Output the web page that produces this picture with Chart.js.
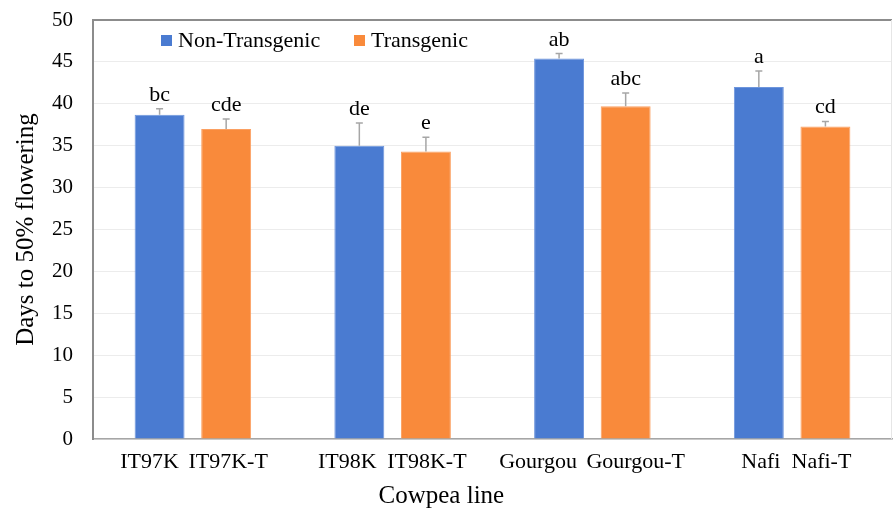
<!DOCTYPE html>
<html>
<head>
<meta charset="utf-8">
<script src="https://cdn.jsdelivr.net/npm/chart.js@4.4.1/dist/chart.umd.min.js"></script>
<style>
html,body{margin:0;padding:0;background:#fff;}
canvas{display:block;}
</style>
</head>
<body>
<canvas id="c" width="893" height="510"></canvas>
<script>
// ---- data ----
const lines = ['IT97K', 'IT98K', 'Gourgou', 'Nafi'];
const nonTransgenic = [38.7, 35.0, 45.4, 42.0];
const nonTransgenicErr = [0.7, 2.7, 0.6, 1.9];
const transgenic = [37.0, 34.3, 39.7, 37.3];
const transgenicErr = [1.2, 1.7, 1.6, 0.6];
const nonTransgenicLetters = ['bc', 'de', 'ab', 'a'];
const transgenicLetters = ['cde', 'e', 'abc', 'cd'];
const yMin = 0, yMax = 50, yStep = 5;
const seriesNames = ['Non-Transgenic', 'Transgenic'];
const xTitle = 'Cowpea line';
const yTitle = 'Days to 50% flowering';

// ---- style: small horizontal nudges of the tick labels (px), as placed in the original figure ----
const labelNudgeNon = [-10, -12, -21, 2];
const labelNudgeTr = [2, 1, 10, -4];

// ---- build slot table (spacer slot before each line, plus one at the end) ----
const labels = [];
const dNon = [], dTr = [], eNon = [], eTr = [], lNon = [], lTr = [], nudge = [];
lines.forEach((name, i) => {
  labels.push('', name, name + '-T');
  dNon.push(null, nonTransgenic[i], null);
  dTr.push(null, null, transgenic[i]);
  eNon.push(null, nonTransgenicErr[i], null);
  eTr.push(null, null, transgenicErr[i]);
  lNon.push(null, nonTransgenicLetters[i], null);
  lTr.push(null, null, transgenicLetters[i]);
  nudge.push(0, labelNudgeNon[i], labelNudgeTr[i]);
});
labels.push(''); dNon.push(null); dTr.push(null); eNon.push(null); eTr.push(null); lNon.push(null); lTr.push(null); nudge.push(0);

const BLUE = '#4a7bd1';
const ORANGE = '#f98a3b';
const FONT = "'Liberation Serif', 'Times New Roman', serif";

const errorPlugin = {
  id: 'errbars',
  beforeDraw(chart) {
    // nudge x tick labels
    const xs = chart.scales.x;
    const items = xs.getLabelItems(chart.chartArea);
    if (!items) return;
    items.forEach((it) => {
      const idx = xs.ticks.findIndex(t => t.label === it.label);
      if (idx >= 0 && it.options && it.options.translation && !it._nudged) {
        it.options.translation[0] += nudge[idx] || 0;
        it._nudged = true;
      }
    });
  },
  afterDatasetsDraw(chart) {
    const ctx = chart.ctx;
    const y = chart.scales.y;
    const errs = [eNon, eTr];
    const lets = [lNon, lTr];
    chart.data.datasets.forEach((ds, di) => {
      const meta = chart.getDatasetMeta(di);
      meta.data.forEach((el, i) => {
        const v = ds.data[i];
        if (v === null || v === undefined) return;
        const top = y.getPixelForValue(v + errs[di][i]);
        ctx.save();
        ctx.strokeStyle = '#a6a6a6';
        ctx.lineWidth = 1.5;
        ctx.beginPath();
        ctx.moveTo(el.x, el.y);
        ctx.lineTo(el.x, top);
        ctx.moveTo(el.x - 3.5, top);
        ctx.lineTo(el.x + 3.5, top);
        ctx.stroke();
        ctx.fillStyle = '#000';
        ctx.font = '22px ' + FONT;
        ctx.textAlign = 'center';
        ctx.textBaseline = 'alphabetic';
        ctx.fillText(lets[di][i], el.x, top - 8);
        ctx.restore();
      });
    });
  },
  afterDraw(chart) {
    const ctx = chart.ctx;
    const a = chart.chartArea;
    ctx.save();
    // faint right border
    ctx.strokeStyle = '#e6e6e6';
    ctx.lineWidth = 1;
    ctx.beginPath();
    ctx.moveTo(a.right - 0.5, a.top);
    ctx.lineTo(a.right - 0.5, a.bottom);
    ctx.stroke();
    // legend
    ctx.font = '22px ' + FONT;
    ctx.textBaseline = 'middle';
    ctx.textAlign = 'left';
    const items = [[seriesNames[0], BLUE, 161], [seriesNames[1], ORANGE, 354]];
    items.forEach(([t, c, x]) => {
      ctx.fillStyle = c;
      ctx.fillRect(x, 35, 11, 11);
      ctx.fillStyle = '#000';
      ctx.fillText(t, x + 17, 41);
    });
    // x axis title
    ctx.font = '25px ' + FONT;
    ctx.textAlign = 'center';
    ctx.textBaseline = 'middle';
    ctx.fillText(xTitle, a.left + (a.right - a.left) * 0.436, 496);
    ctx.restore();
  }
};

new Chart(document.getElementById('c'), {
  type: 'bar',
  data: {
    labels: labels,
    datasets: [
      { label: seriesNames[0], data: dNon, backgroundColor: BLUE, borderColor: '#6d95dc', borderWidth: 1, grouped: false, barPercentage: 0.75, categoryPercentage: 1.0 },
      { label: seriesNames[1], data: dTr, backgroundColor: ORANGE, borderColor: '#fba062', borderWidth: 1, grouped: false, barPercentage: 0.75, categoryPercentage: 1.0 }
    ]
  },
  options: {
    responsive: false,
    animation: false,
    layout: { padding: { top: 20, right: 1, left: 0, bottom: 0 } },
    plugins: { legend: { display: false }, tooltip: { enabled: false } },
    scales: {
      x: {
        offset: false,
        afterFit(s) { s.height = 71; s.paddingLeft = 0; s.paddingRight = 0; },
        grid: { display: false, drawTicks: false, offset: false },
        border: { display: true, color: '#a6a6a6', width: 1.5 },
        ticks: { color: '#000', font: { family: FONT, size: 22 }, padding: 10, autoSkip: false, maxRotation: 0 },
        title: { display: false, text: xTitle }
      },
      y: {
        min: yMin, max: yMax,
        afterFit(s) { s.width = 93; s.paddingTop = 0; s.paddingBottom = 0; },
        grid: {
          drawTicks: false,
          color: (c) => c.tick && c.tick.value === yMax ? '#8c8c8c' : '#ececec',
          lineWidth: (c) => c.tick && c.tick.value === yMax ? 2 : 1
        },
        border: { display: true, color: '#8c8c8c', width: 2 },
        ticks: { stepSize: yStep, color: '#000', font: { family: FONT, size: 21 }, padding: 20 },
        title: { display: true, text: yTitle, color: '#000', font: { family: FONT, size: 25 }, padding: { top: 11, bottom: 0 } }
      }
    }
  },
  plugins: [errorPlugin]
});
</script>
</body>
</html>
